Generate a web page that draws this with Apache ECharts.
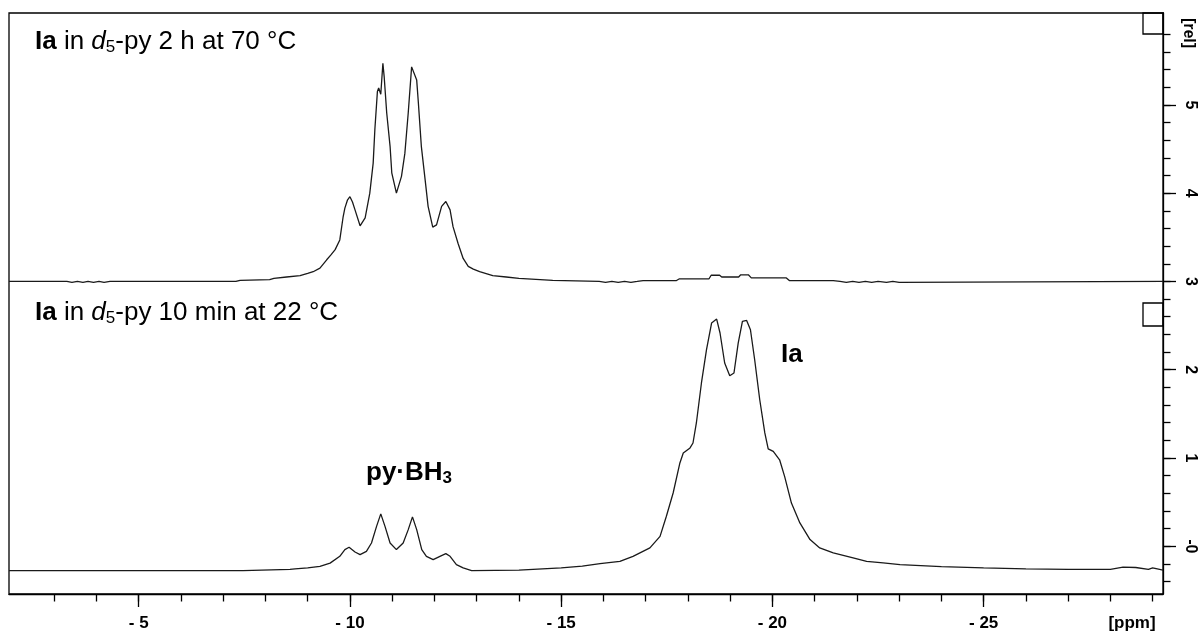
<!DOCTYPE html>
<html>
<head>
<meta charset="utf-8">
<script src="https://cdn.jsdelivr.net/npm/echarts@6/dist/echarts.min.js"></script>
<style>
  html, body { margin: 0; padding: 0; background: #fff; }
  #chart { width: 1203px; height: 634px; }
</style>
</head>
<body>
<div id="chart"></div>
<script>
// 11B spectra (ppm, rel. intensity)
const topPpm = [-1.93, -3.3, -3.42, -3.55, -3.68, -3.8, -3.93, -4.06, -4.18, -4.32, -7.3, -7.4, -8.1, -8.2, -8.5, -8.82, -9.0, -9.13, -9.29, -9.45, -9.55, -9.65, -9.76, -9.84, -9.88, -9.94, -10.0, -10.06, -10.12, -10.24, -10.36, -10.47, -10.55, -10.59, -10.65, -10.68, -10.73, -10.78, -10.81, -10.87, -10.95, -10.99, -11.1, -11.22, -11.3, -11.38, -11.46, -11.5, -11.58, -11.62, -11.69, -11.78, -11.85, -11.96, -12.05, -12.17, -12.27, -12.37, -12.44, -12.56, -12.68, -12.8, -12.92, -13.07, -13.38, -13.7, -14.0, -14.8, -15.9, -16.05, -16.2, -16.35, -16.5, -16.65, -16.8, -16.94, -17.73, -17.8, -18.5, -18.55, -18.75, -18.8, -19.2, -19.25, -19.43, -19.5, -20.33, -20.4, -21.44, -21.6, -21.75, -21.9, -22.05, -22.2, -22.35, -22.5, -22.7, -22.85, -23.0, -29.245];
const topRel = [3.0, 3.0, 2.99, 3.0, 2.99, 3.0, 2.99, 3.0, 2.99, 3.0, 3.0, 3.012, 3.02, 3.035, 3.05, 3.065, 3.09, 3.11, 3.15, 3.245, 3.3, 3.36, 3.47, 3.735, 3.83, 3.92, 3.96, 3.9, 3.81, 3.63, 3.72, 4.0, 4.34, 4.72, 5.15, 5.19, 5.12, 5.47, 5.32, 4.91, 4.53, 4.23, 4.0, 4.19, 4.45, 4.91, 5.43, 5.45, 5.28, 5.02, 4.53, 4.15, 3.85, 3.615, 3.64, 3.85, 3.905, 3.81, 3.62, 3.43, 3.26, 3.17, 3.14, 3.11, 3.065, 3.05, 3.035, 3.012, 3.0, 2.99, 3.0, 2.99, 3.0, 2.99, 3.0, 3.01, 3.01, 3.03, 3.03, 3.07, 3.07, 3.05, 3.05, 3.075, 3.075, 3.04, 3.04, 3.01, 3.01, 3.0, 2.99, 3.0, 2.99, 3.0, 2.99, 3.0, 2.99, 3.0, 2.99, 3.0, 3.0];

const botPpm = [-1.93, -7.47, -7.5, -8.58, -8.7, -9.0, -9.29, -9.53, -9.76, -9.88, -9.98, -10.12, -10.24, -10.39, -10.51, -10.63, -10.73, -10.83, -10.95, -11.1, -11.26, -11.38, -11.48, -11.58, -11.7, -11.81, -11.97, -12.13, -12.27, -12.37, -12.52, -12.68, -12.88, -14.0, -15.0, -15.5, -15.92, -16.39, -16.7, -17.1, -17.34, -17.49, -17.65, -17.81, -17.89, -18.05, -18.12, -18.2, -18.32, -18.44, -18.56, -18.68, -18.76, -18.87, -18.99, -19.09, -19.19, -19.29, -19.39, -19.48, -19.58, -19.7, -19.82, -19.9, -20.02, -20.17, -20.29, -20.45, -20.65, -20.89, -21.12, -21.44, -21.91, -22.23, -22.62, -23.02, -24.0, -25.0, -26.0, -27.0, -28.0, -28.3, -28.6, -28.9, -29.0, -29.245];
const botRel = [-0.275, -0.275, -0.262, -0.262, -0.255, -0.245, -0.226, -0.19, -0.113, -0.037, -0.011, -0.064, -0.094, -0.057, 0.038, 0.226, 0.367, 0.226, 0.038, -0.037, 0.038, 0.189, 0.333, 0.189, -0.037, -0.113, -0.15, -0.113, -0.083, -0.113, -0.207, -0.245, -0.275, -0.27, -0.245, -0.225, -0.196, -0.17, -0.113, -0.018, 0.113, 0.34, 0.604, 0.944, 1.057, 1.114, 1.17, 1.397, 1.85, 2.227, 2.529, 2.574, 2.416, 2.076, 1.932, 1.963, 2.302, 2.547, 2.558, 2.453, 2.113, 1.66, 1.284, 1.103, 1.075, 0.98, 0.79, 0.49, 0.265, 0.076, -0.018, -0.075, -0.131, -0.17, -0.188, -0.207, -0.23, -0.245, -0.255, -0.262, -0.26, -0.235, -0.24, -0.26, -0.245, -0.27];

// axis ticks
const xMajor = [-5, -10, -15, -20, -25];
const xMinor = [-3, -4, -5, -6, -7, -8, -9, -10, -11, -12, -13, -14, -15, -16, -17, -18, -19, -20, -21, -22, -23, -24, -25, -26, -27, -28, -29];
const yMajor = [0, 1, 2, 3, 4, 5];
const yMinor = [-0.4, -0.2, 0, 0.2, 0.4, 0.6, 0.8, 1, 1.2, 1.4, 1.6, 1.8, 2, 2.2, 2.4, 2.6, 2.8, 3, 3.2, 3.4, 3.6, 3.8, 4, 4.2, 4.4, 4.6, 4.8, 5, 5.2, 5.4, 5.6, 5.8];

const xMin = -29.245, xMax = -1.93;
const yMin = -0.54, yMax = 6.04;

const pair = (xs, ys) => xs.map((x, i) => [x, ys[i]]);

const ink = '#1a1a1a';
const axisFont = { color: '#000', fontFamily: 'Liberation Sans, Arial, sans-serif', fontWeight: 'bold' };
const labelFont = 'Liberation Sans, Arial, sans-serif';

const chart = echarts.init(document.getElementById('chart'));

const xBase = {
  type: 'value', inverse: true, min: xMin, max: xMax, position: 'bottom',
  splitLine: { show: false }
};
const yBase = {
  type: 'value', min: yMin, max: yMax, position: 'right',
  splitLine: { show: false }
};

const richText = {
  b: { fontWeight: 'bold', fontSize: 26, fontFamily: labelFont },
  i: { fontStyle: 'italic', fontSize: 26, fontFamily: labelFont },
  s: { fontSize: 17, fontFamily: labelFont, padding: [10, 0, 0, 0] },
  n: { fontSize: 26, fontFamily: labelFont }
};

chart.setOption({
  animation: false,
  backgroundColor: '#fff',
  grid: {
    left: 9, right: 40, top: 13, bottom: 40,
    show: true, borderColor: '#000', borderWidth: 1.3
  },
  xAxis: [
    {
      ...xBase,
      axisLine: { show: true, onZero: false, lineStyle: { color: '#000', width: 1.3 } },
      axisTick: { show: true, customValues: xMajor, length: 13, lineStyle: { color: '#000', width: 1.3 } },
      axisLabel: {
        ...axisFont, fontSize: 17, margin: 21, customValues: xMajor,
        formatter: (v) => '- ' + Math.abs(v)
      }
    },
    {
      ...xBase,
      axisLine: { show: false, onZero: false },
      axisTick: { show: true, customValues: xMinor, length: 7.5, lineStyle: { color: '#000', width: 1.3 } },
      axisLabel: { show: false }
    }
  ],
  yAxis: [
    {
      ...yBase,
      axisLine: { show: true, onZero: false, lineStyle: { color: '#000', width: 1.3 } },
      axisTick: { show: true, customValues: yMajor, length: 13, lineStyle: { color: '#000', width: 1.3 } },
      axisLabel: {
        ...axisFont, fontSize: 16, margin: 19, rotate: -90, customValues: yMajor,
        formatter: (v) => (v === 0 ? '-0' : String(v))
      }
    },
    {
      ...yBase,
      axisLine: { show: false, onZero: false },
      axisTick: { show: true, customValues: yMinor, length: 7.5, lineStyle: { color: '#000', width: 1.3 } },
      axisLabel: { show: false }
    }
  ],
  series: [
    {
      name: '2 h at 70 °C', type: 'line', xAxisIndex: 0, yAxisIndex: 0,
      data: pair(topPpm, topRel), showSymbol: false, silent: true,
      lineStyle: { color: ink, width: 1.3 }
    },
    {
      name: '10 min at 22 °C', type: 'line', xAxisIndex: 0, yAxisIndex: 0,
      data: pair(botPpm, botRel), showSymbol: false, silent: true,
      lineStyle: { color: ink, width: 1.3 }
    }
  ],
  graphic: [
    // little boxes marking the top of each trace
    { type: 'rect', shape: { x: 1143, y: 13, width: 20, height: 21 }, style: { fill: 'none', stroke: '#000', lineWidth: 1.3 } },
    { type: 'rect', shape: { x: 1143, y: 303, width: 20, height: 23 }, style: { fill: 'none', stroke: '#000', lineWidth: 1.3 } },
    {
      type: 'text', x: 35, y: 42,
      style: { text: '{b|Ia}{n| in }{i|d}{s|5}{n|-py 2 h at 70 °C}', rich: richText, fill: '#000', verticalAlign: 'middle' }
    },
    {
      type: 'text', x: 35, y: 313,
      style: { text: '{b|Ia}{n| in }{i|d}{s|5}{n|-py 10 min at 22 °C}', rich: richText, fill: '#000', verticalAlign: 'middle' }
    },
    {
      type: 'text', x: 366, y: 473,
      style: {
        text: '{b|py·BH}{bs|3}', fill: '#000', verticalAlign: 'middle',
        rich: { b: richText.b, bs: { fontWeight: 'bold', fontSize: 17, fontFamily: labelFont, padding: [10, 0, 0, 0] } }
      }
    },
    {
      type: 'text', x: 781, y: 355,
      style: { text: 'Ia', fill: '#000', fontSize: 26, fontWeight: 'bold', fontFamily: labelFont, verticalAlign: 'middle' }
    },
    {
      type: 'text', x: 1132, y: 623,
      style: { text: '[ppm]', fill: '#000', fontSize: 17, fontWeight: 'bold', fontFamily: labelFont, align: 'center', verticalAlign: 'middle' }
    },
    {
      type: 'text', x: 1188, y: 33, rotation: -Math.PI / 2,
      style: { text: '[rel]', fill: '#000', fontSize: 16, fontWeight: 'bold', fontFamily: labelFont, align: 'center', verticalAlign: 'middle' }
    }
  ]
});
</script>
</body>
</html>
